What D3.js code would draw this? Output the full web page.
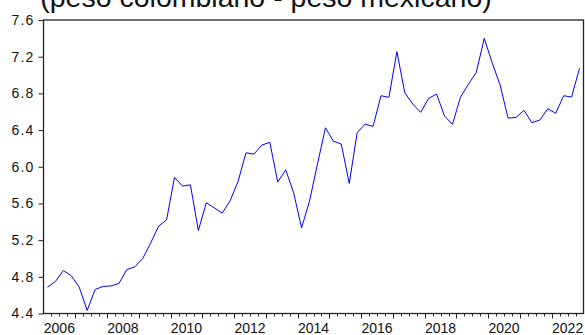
<!DOCTYPE html>
<html>
<head>
<meta charset="utf-8">
<script src="https://cdn.jsdelivr.net/npm/d3@7"></script>
<style>
  html, body { margin: 0; padding: 0; background: #fff; }
  svg { display: block; font-family: "Liberation Sans", Arial, sans-serif; }
</style>
</head>
<body>
<svg id="chart" width="585" height="335"></svg>
<script>
// Quarterly series, 2006Q1 .. 2022Q4
const startYear = 2006;
const values = [
  4.687, 4.749, 4.869, 4.811, 4.687, 4.433, 4.662, 4.695,
  4.701, 4.727, 4.880, 4.909, 5.000, 5.170, 5.353, 5.420,
  5.884, 5.789, 5.803, 5.305, 5.607, 5.552, 5.494, 5.629,
  5.840, 6.152, 6.138, 6.236, 6.266, 5.833, 5.967, 5.716,
  5.334, 5.625, 6.029, 6.425, 6.280, 6.247, 5.818, 6.371,
  6.465, 6.440, 6.774, 6.757, 7.255, 6.807, 6.684, 6.593,
  6.745, 6.793, 6.553, 6.462, 6.757, 6.898, 7.029, 7.400,
  7.134, 6.891, 6.531, 6.538, 6.615, 6.480, 6.509, 6.633,
  6.582, 6.774, 6.760, 7.073
];
const yTicks = [4.4, 4.8, 5.2, 5.6, 6.0, 6.4, 6.8, 7.2, 7.6];
const yearLabels = [2006, 2008, 2010, 2012, 2014, 2016, 2018, 2020, 2022];
const titleText = "(peso colombiano - peso mexicano)";

const svg = d3.select("#chart");
const m = { left: 43.5, right: 583.5, top: 20, bottom: 313.5 };
const nQ = values.length;

const x = d3.scaleLinear().domain([0, nQ]).range([m.left, m.right]);
const y = d3.scaleLinear().domain([4.4, 7.6]).range([m.bottom, m.top]);

// Title (partly cut off at top)
svg.append("text")
  .attr("x", 266).attr("y", 7)
  .attr("text-anchor", "middle")
  .attr("font-size", 28.5)
  .attr("fill", "#111")
  .text(titleText);

// Y axis
const yAxis = d3.axisLeft(y).tickValues(yTicks).tickFormat(d3.format(".1f"))
  .tickSize(5).tickPadding(4);
const gy = svg.append("g").attr("transform", `translate(${m.left},0)`).call(yAxis);
gy.select(".domain").remove();
gy.selectAll("line").attr("stroke", "#222");
gy.selectAll("text").attr("font-size", 14).attr("fill", "#111")
  .attr("font-family", "'Liberation Sans', Arial, sans-serif")
  .attr("letter-spacing", 1.2);

// X axis: quarter minor ticks, year major ticks
const minorTicks = d3.range(1, nQ);
const gx = svg.append("g").attr("transform", `translate(0,${m.bottom})`);
gx.selectAll("line.tick")
  .data(minorTicks)
  .join("line")
  .attr("x1", d => Math.round(x(d)) + 0.5).attr("x2", d => Math.round(x(d)) + 0.5)
  .attr("y1", 0).attr("y2", d => d % 4 === 0 ? 5 : 3)
  .attr("stroke", "#222").attr("stroke-width", 1);
gx.selectAll("text")
  .data(yearLabels)
  .join("text")
  .attr("x", d => x((d - startYear) * 4 + 2))
  .attr("y", 19.5)
  .attr("text-anchor", "middle")
  .attr("font-size", 14)
  .attr("fill", "#111")
  .text(d => d);

// Frame
svg.append("rect")
  .attr("x", m.left).attr("y", m.top)
  .attr("width", m.right - m.left).attr("height", m.bottom - m.top)
  .attr("fill", "none").attr("stroke", "#222").attr("stroke-width", 1.3);

// Line
const line = d3.line().x((d, i) => x(i + 0.5)).y(d => y(d));
svg.append("path")
  .datum(values)
  .attr("d", line)
  .attr("fill", "none")
  .attr("stroke", "#0000ff")
  .attr("stroke-width", 1);
</script>
</body>
</html>
